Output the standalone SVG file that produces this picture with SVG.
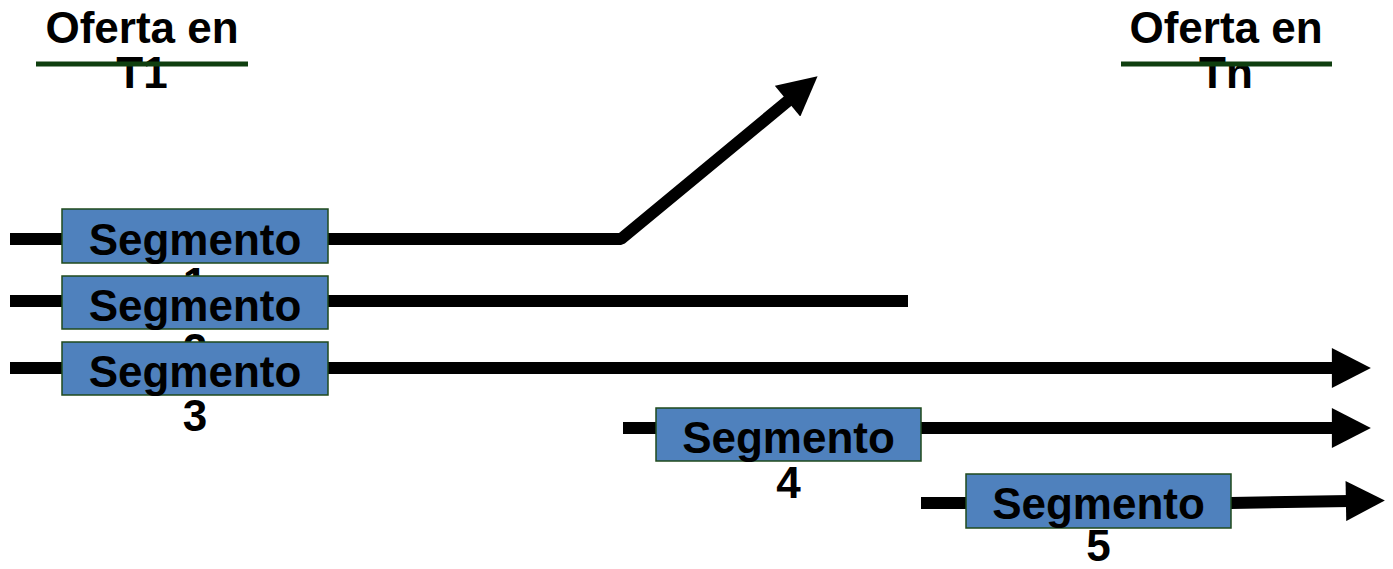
<svg xmlns="http://www.w3.org/2000/svg" width="1393" height="569" viewBox="0 0 1393 569">
  <style>
    .lbl { font-family: "Liberation Sans", Arial, sans-serif; font-weight: bold; font-size: 44px; fill: #000; text-anchor: middle; }
    .box { fill: #4f81bd; stroke: #1f4a1c; stroke-width: 1.5; }
    .flow { fill: none; stroke: #000; stroke-width: 12; stroke-linejoin: bevel; }
    .rule { stroke: #0f3f0f; stroke-width: 5; }
  </style>
  <defs>
    <marker id="head" markerUnits="userSpaceOnUse" markerWidth="40" markerHeight="40" viewBox="0 0 38 39" refX="4" refY="19.5" orient="auto">
      <path d="M0,0 L38,19.5 L0,39 Z" fill="#000"/>
    </marker>
  </defs>

  <!-- column headings -->
  <g id="header-t1">
    <text class="lbl" x="142" y="43">Oferta en</text>
    <text class="lbl" x="142" y="88">T1</text>
    <line class="rule" x1="36" y1="64" x2="248" y2="64"/>
  </g>
  <g id="header-tn">
    <text class="lbl" x="1226" y="43">Oferta en</text>
    <text class="lbl" x="1226" y="88">Tn</text>
    <line class="rule" x1="1121" y1="64" x2="1332" y2="64"/>
  </g>

  <!-- trajectories -->
  <g id="connectors">
    <path class="flow" d="M10,239 H621 L790.7,98.6" marker-end="url(#head)"/>
    <path class="flow" d="M10,301 H908"/>
    <path class="flow" d="M10,368 H1336" marker-end="url(#head)"/>
    <path class="flow" d="M623,428 H1336" marker-end="url(#head)"/>
    <path class="flow" d="M921,503 H1231 L1350,501" marker-end="url(#head)"/>
  </g>

  <!-- segments: each caption wraps to a second line that the next box partly covers -->
  <g id="segment-1">
    <rect class="box" x="62" y="209" width="266" height="54"/>
    <text class="lbl" x="195" y="255">Segmento</text>
    <text class="lbl" x="195" y="299">1</text>
  </g>
  <g id="segment-2">
    <rect class="box" x="62" y="276" width="266" height="53"/>
    <text class="lbl" x="195" y="321">Segmento</text>
    <text class="lbl" x="195" y="365">2</text>
  </g>
  <g id="segment-3">
    <rect class="box" x="62" y="342" width="266" height="53"/>
    <text class="lbl" x="195" y="387">Segmento</text>
    <text class="lbl" x="195" y="431">3</text>
  </g>
  <g id="segment-4">
    <rect class="box" x="656" y="408" width="265" height="53"/>
    <text class="lbl" x="788.5" y="453">Segmento</text>
    <text class="lbl" x="788.5" y="498">4</text>
  </g>
  <g id="segment-5">
    <rect class="box" x="966" y="474" width="265" height="54"/>
    <text class="lbl" x="1098.5" y="519">Segmento</text>
    <text class="lbl" x="1098.5" y="561">5</text>
  </g>
</svg>
